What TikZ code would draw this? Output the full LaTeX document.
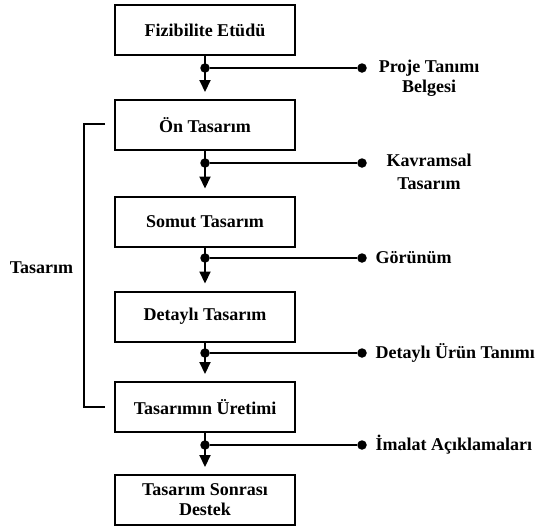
\documentclass[tikz,border=0pt]{standalone}
\usepackage{fontspec}
\setmainfont{Liberation Serif}
\usetikzlibrary{arrows.meta}
\tikzset{
  stage/.style={draw, line width=2pt, minimum width=180pt, minimum height=50pt, align=center, font=\fontsize{18}{20}\selectfont\bfseries, inner sep=2pt},
  flow/.style={line width=2pt, -{Triangle[width=11pt,length=12pt]}, shorten >=7pt},
  tap/.style={line width=2pt},
  dot/.style={circle, fill=black, inner sep=0pt, minimum size=9.5pt},
  outl/.style={font=\fontsize{18}{20}\selectfont\bfseries, align=center},
}
\begin{document}
\begin{tikzpicture}[x=1pt,y=-1pt]
\useasboundingbox (0,0) rectangle (540,531);
\node[stage] (s1) at (205,30) {Fizibilite Etüdü};
\node[stage] (s2) at (205,125) {Ön Tasarım};
\node[stage] (s3) at (205,221.5) {Somut Tasarım};
\node[stage] (s4) at (205,316.5) {Detaylı Tasarım};
\node[stage] (s5) at (205,407) {Tasarımın Üretimi};
\node[stage] (s6) at (205,500) {Tasarım Sonrası\\Destek};
\foreach \a/\b/\y/\i in {s1/s2/68/1, s2/s3/163/2, s3/s4/258/3, s4/s5/353/4, s5/s6/445/5}{
  \draw[flow] (\a) -- (\b);
  \node[dot] (j\i) at (205,\y) {};
  \node[dot] (e\i) at (362,\y) {};
  \draw[tap] (j\i) -- (e\i);
}
\node[outl] (o1) at (429,78) {Proje Tanımı\\Belgesi};
\node[outl, font=\fontsize{18}{23}\selectfont\bfseries] (o2) at (429,171.5) {Kavramsal\\Tasarım};
\node[outl, anchor=west] (o3) at (372,258) {Görünüm};
\node[outl, anchor=west] (o4) at (372,353) {Detaylı Ürün Tanımı};
\node[outl, anchor=west] (o5) at (372,445) {İmalat Açıklamaları};
\coordinate (b1) at (105,124);
\coordinate (b2) at (84,124);
\coordinate (b3) at (84,407);
\coordinate (b4) at (105,407);
\draw[tap] (b1) -- (b2) -- (b3) -- (b4);
\node[outl] (tl) at (41.5,268) {Tasarım};
\end{tikzpicture}
\end{document}
